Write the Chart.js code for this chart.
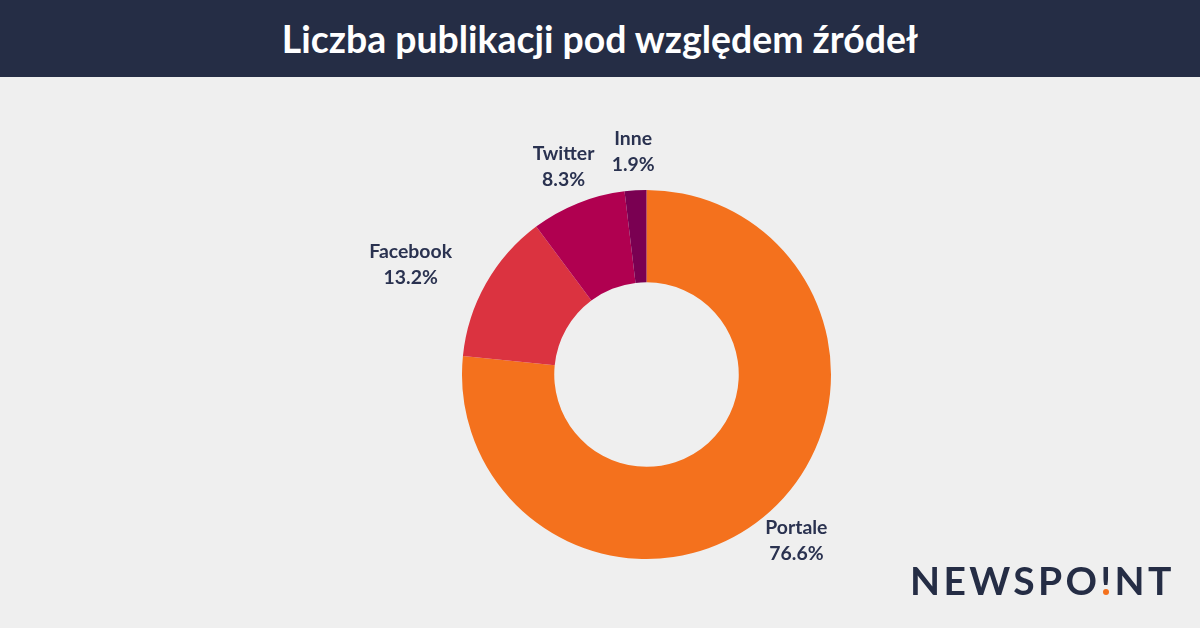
<!DOCTYPE html>
<html lang="pl">
<head>
    <meta charset="UTF-8">
    <title>Liczba publikacji pod względem źródeł</title>
    <script src="https://cdn.jsdelivr.net/npm/chart.js"></script>
    <style>
        html, body {
            margin: 0;
            width: 1200px;
            height: 628px;
            overflow: hidden;
            background: #efefef;
            font-family: Lato, Arial, sans-serif;
        }
        .header {
            position: absolute;
            left: 0;
            top: 0;
            width: 1200px;
            height: 77px;
            background: #252d45;
            color: #fff;
            font-size: 37.4px;
            font-weight: 700;
            line-height: 77px;
            text-align: center;
        }
        .chart-box {
            position: absolute;
            left: 0;
            top: 77px;
            width: 1200px;
            height: 551px;
        }
        .logo {
            position: absolute;
            left: 910px;
            top: 558px;
            font-size: 39px;
            line-height: 44px;
            font-weight: 700;
            letter-spacing: 3.35px;
            color: #252d45;
        }
        .logo-dot {
            position: absolute;
            left: 1103px;
            top: 589px;
            width: 6px;
            height: 6px;
            border-radius: 50%;
            background: #f4711d;
            box-shadow: 0 0 0 1.5px #efefef;
        }
    </style>
</head>
<body>
    <div class="header">Liczba publikacji pod względem źródeł</div>
    <div class="chart-box"><canvas id="sourcesChart" width="1200" height="551"></canvas></div>
    <div class="logo">NEWSPO!NT</div>
    <div class="logo-dot"></div>

    <script>
        const categories = ['Portale', 'Facebook', 'Twitter', 'Inne'];
        const shares = [76.6, 13.2, 8.3, 1.9];
        const sliceColors = ['#f4711d', '#db3340', '#b00050', '#7a0052'];

        // Podpisy rysowane obok wycinkow
        const labelPlugin = {
            id: 'sliceLabels',
            afterDatasetsDraw(chart) {
                const ctx = chart.ctx;
                const arcs = chart.getDatasetMeta(0).data;
                ctx.save();
                ctx.font = '700 19.4px Lato, Arial, sans-serif';
                ctx.fillStyle = '#2a3250';
                ctx.textAlign = 'center';
                ctx.textBaseline = 'middle';
                arcs.forEach(function(arc, i) {
                    const mid = (arc.startAngle + arc.endAngle) / 2;
                    const r = arc.outerRadius + 39;
                    let x = arc.x + Math.cos(mid) * r;
                    const y = arc.y + Math.sin(mid) * r;
                    // Facebook konczy sie przy punkcie kotwicy, reszta jest wysrodkowana
                    if (categories[i] === 'Facebook') {
                        x -= ctx.measureText(categories[i]).width / 2;
                    }
                    ctx.fillText(categories[i], x, y - 13);
                    ctx.fillText(shares[i].toFixed(1) + '%', x, y + 13);
                });
                ctx.restore();
            }
        };

        new Chart(document.getElementById('sourcesChart').getContext('2d'), {
            type: 'doughnut',
            data: {
                labels: categories,
                datasets: [{
                    data: shares,
                    backgroundColor: sliceColors,
                    borderWidth: 0
                }]
            },
            options: {
                responsive: false,
                animation: false,
                cutout: '50%',
                layout: { padding: { top: 113, bottom: 69, left: 462, right: 369 } },
                plugins: {
                    legend: { display: false },
                    tooltip: { enabled: false }
                }
            },
            plugins: [labelPlugin]
        });
    </script>
</body>
</html>
